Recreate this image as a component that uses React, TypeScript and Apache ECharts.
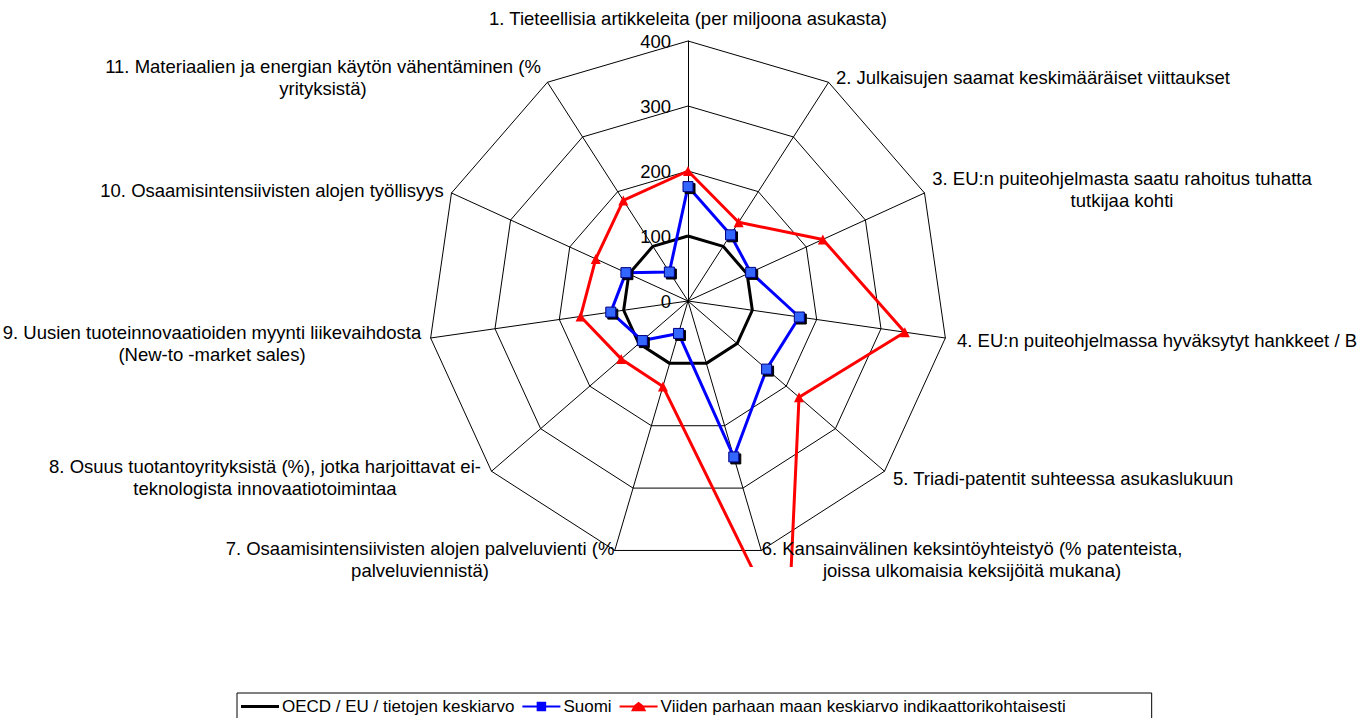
import React, { useEffect, useRef } from 'react';
import * as echarts from 'echarts';

const indicatorNames = [
  '1. Tieteellisia artikkeleita (per miljoona asukasta)',
  '2. Julkaisujen saamat keskimääräiset viittaukset',
  '3. EU:n puiteohjelmasta saatu rahoitus tuhatta tutkijaa kohti',
  '4. EU:n puiteohjelmassa hyväksytyt hankkeet / B',
  '5. Triadi-patentit suhteessa asukaslukuun',
  '6. Kansainvälinen keksintöyhteistyö (% patenteista, joissa ulkomaisia keksijöitä mukana)',
  '7. Osaamisintensiivisten alojen palveluvienti (% palveluviennistä)',
  '8. Osuus tuotantoyrityksistä (%), jotka harjoittavat ei-teknologista innovaatiotoimintaa',
  '9. Uusien tuoteinnovaatioiden myynti liikevaihdosta (New-to -market sales)',
  '10. Osaamisintensiivisten alojen työllisyys',
  '11. Materiaalien ja energian käytön vähentäminen (% yrityksistä)',
];

const labelLines = [
  '1. Tieteellisia artikkeleita (per miljoona asukasta)',
  '2. Julkaisujen saamat keskimääräiset viittaukset',
  '3. EU:n puiteohjelmasta saatu rahoitus tuhatta\ntutkijaa kohti',
  '4. EU:n puiteohjelmassa hyväksytyt hankkeet / B',
  '5. Triadi-patentit suhteessa asukaslukuun',
  '6. Kansainvälinen keksintöyhteistyö (% patenteista,\njoissa ulkomaisia keksijöitä mukana)',
  '7. Osaamisintensiivisten alojen palveluvienti (%\npalveluviennistä)',
  '8. Osuus tuotantoyrityksistä (%), jotka harjoittavat ei-\nteknologista innovaatiotoimintaa',
  '9. Uusien tuoteinnovaatioiden myynti liikevaihdosta\n(New-to -market sales)',
  '10. Osaamisintensiivisten alojen työllisyys',
  '11. Materiaalien ja energian käytön vähentäminen (%\nyrityksistä)',
];

const seriesNames = [
  'OECD / EU / tietojen keskiarvo',
  'Suomi',
  'Viiden parhaan maan keskiarvo indikaattorikohtaisesti',
];

const oecdValues = [100, 100, 100, 100, 100, 100, 100, 100, 100, 100, 100];
const suomiValues = [176, 121, 106, 173, 160, 250, 52, 93, 120, 105, 53];
const bestFiveValues = [200, 144, 228, 337, 226, 545, 137, 136, 167, 156, 184];

const tickValues = [0, 100, 200, 300, 400];

// layout of the axis-name texts: [x, y, align]
const labelLayout: [number, number, string][] = [
  [688, 18, 'center'],
  [836, 77, 'left'],
  [1122, 189, 'center'],
  [957, 340, 'left'],
  [893, 478, 'left'],
  [972, 559, 'center'],
  [420, 559, 'center'],
  [265, 477, 'center'],
  [212, 343, 'center'],
  [272, 190, 'center'],
  [323, 77, 'center'],
];

const FONT = '"Liberation Sans", Arial, Helvetica, sans-serif';
const FS = 18.5;
const LEGEND_FS = 17;

// ECharts radar goes counter-clockwise; reorder so the axes run clockwise.
const reorder = <T,>(arr: T[]): T[] => [arr[0], ...arr.slice(1).reverse()];

export default function App() {
  const ref = useRef<HTMLDivElement>(null);

  useEffect(() => {
    if (!ref.current) return;
    const chart = echarts.init(ref.current, undefined, { renderer: 'svg' });
    const maxV = tickValues[tickValues.length - 1];

    const indicators = reorder(indicatorNames).map((name, i) => ({
      name,
      min: tickValues[0],
      max: maxV,
      ...(i === 0 ? { axisLabel: { show: true } } : {}),
    }));

    const graphics: any[] = labelLines.map((t, i) => ({
      type: 'text',
      x: labelLayout[i][0],
      y: labelLayout[i][1],
      z: 60,
      style: {
        text: t,
        align: labelLayout[i][2],
        verticalAlign: 'middle',
        fontSize: FS,
        fontFamily: FONT,
        lineHeight: 22,
        fill: '#000',
      },
    }));
    // white mask: the plot area cuts off the overflowing red line
    graphics.push({
      type: 'rect',
      z: 50,
      shape: { x: 725, y: 567, width: 90, height: 100 },
      style: { fill: '#fff' },
    });

    chart.setOption({
      animation: false,
      backgroundColor: '#fff',
      radar: {
        center: [688, 301],
        radius: 260,
        shape: 'polygon',
        splitNumber: 4,
        indicator: indicators,
        axisName: { show: false },
        axisLine: { lineStyle: { color: '#000', width: 1 } },
        splitLine: { lineStyle: { color: '#000', width: 1 } },
        splitArea: { show: false },
        axisTick: { show: false },
        axisLabel: {
          show: false,
          color: '#000',
          fontSize: FS,
          fontFamily: FONT,
          margin: 17,
          showMinLabel: true,
          showMaxLabel: true,
        },
      },
      legend: {
        left: 237,
        top: 693,
        orient: 'horizontal',
        itemWidth: 38,
        itemHeight: 11,
        itemGap: 8,
        padding: [5, 86, 5, 4],
        borderColor: '#000',
        borderWidth: 1,
        borderRadius: 0,
        textStyle: {
          fontSize: LEGEND_FS,
          fontFamily: FONT,
          color: '#000',
          padding: [0, 0, 0, -2],
        },
        data: [
          {
            name: seriesNames[0],
            icon: 'path://M0,4h40v3h-40z',
            itemStyle: { color: '#000', borderWidth: 0 },
          },
          {
            name: seriesNames[1],
            icon: 'path://M0,4h15v-4h10v4h15v2h-15v4h-10v-4h-15z',
            itemStyle: { color: '#0000FF', borderWidth: 0 },
          },
          {
            name: seriesNames[2],
            icon: 'path://M0,4h15l5,-4l5,4h15v2h-14l2,4h-16l2,-4h-14z',
            itemStyle: { color: '#FF0000', borderWidth: 0 },
          },
        ],
      },
      series: [
        {
          type: 'radar',
          z: 2,
          symbol: 'none',
          lineStyle: { color: '#000', width: 3 },
          itemStyle: { color: '#000' },
          data: [{ name: seriesNames[0], value: reorder(oecdValues) }],
        },
        {
          type: 'radar',
          z: 3,
          symbol: 'rect',
          symbolSize: 10,
          lineStyle: { color: '#0000FF', width: 3 },
          itemStyle: {
            color: '#3366FF',
            borderColor: '#000080',
            borderWidth: 1,
            shadowColor: '#000',
            shadowBlur: 0,
            shadowOffsetX: 2,
            shadowOffsetY: 2,
          },
          data: [{ name: seriesNames[1], value: reorder(suomiValues) }],
        },
        {
          type: 'radar',
          z: 4,
          symbol: 'triangle',
          symbolSize: 10,
          lineStyle: { color: '#FF0000', width: 3 },
          itemStyle: { color: '#FF0000' },
          data: [{ name: seriesNames[2], value: reorder(bestFiveValues) }],
        },
      ],
      graphic: graphics,
    });

    return () => chart.dispose();
  }, []);

  return (
    <div
      ref={ref}
      style={{ position: 'absolute', left: 0, top: 0, width: 1370, height: 718 }}
    />
  );
}
